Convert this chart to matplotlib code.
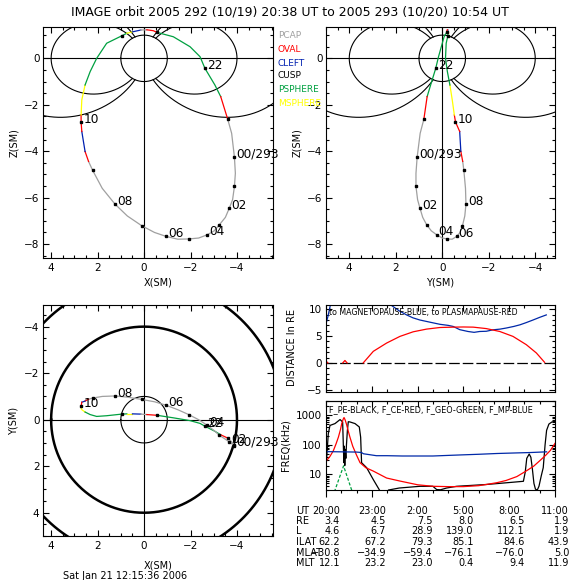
import matplotlib
matplotlib.use("Agg")
import matplotlib.pyplot as plt
import matplotlib.transforms as mtransforms
from matplotlib.ticker import MultipleLocator, FixedLocator, FixedFormatter, LogLocator, NullFormatter
import numpy as np

nan = np.nan

# IMAGE orbit, time in hours after 2005-292 20:00 UT
orbit_t = [0.633, 0.70, 0.76, 0.84, 0.90, 0.95, 1.0, 1.25, 1.5, 1.75, 2.0, 2.3, 2.55, 3.0, 3.5,
           4.0, 4.5, 5.0, 5.5, 6.0, 6.5, 7.0, 7.5, 8.0, 8.5, 9.0, 9.5, 10.0, 10.5, 11.0, 11.5,
           12.0, 12.5, 13.0, 13.2, 13.4, 13.7, 14.0, 14.1, 14.3, 14.45, 14.55, 14.65, 14.75, 14.9]
orbit_x = [0.96, 0.74, 0.50, 0.14, -0.12, -0.40, -0.55, -1.26, -1.98, -2.41, -2.62, -3.05, -3.30, -3.60, -3.77,
           -3.89, -3.93, -3.89, -3.81, -3.67, -3.50, -3.24, -3.02, -2.72, -2.35, -1.92, -1.45, -0.95, -0.45, 0.10, 0.72,
           1.25, 1.80, 2.21, 2.39, 2.54, 2.68, 2.71, 2.71, 2.68, 2.54, 2.32, 2.04, 1.61, 0.96]
orbit_y = [-0.24, -0.25, -0.25, -0.24, -0.22, -0.20, -0.19, -0.08, 0.04, 0.16, 0.28, 0.50, 0.65, 0.79, 0.95,
           1.08, 1.13, 1.13, 1.06, 0.96, 0.84, 0.67, 0.47, 0.24, 0.00, -0.22, -0.43, -0.62, -0.77, -0.87, -0.97,
           -1.02, -1.00, -0.93, -0.88, -0.80, -0.75, -0.57, -0.52, -0.43, -0.33, -0.22, -0.14, -0.17, -0.24]
orbit_z = [0.97, 1.08, 1.14, 1.22, 1.23, 1.19, 1.12, 0.93, 0.50, 0.07, -0.43, -1.15, -1.65, -2.62, -3.23,
           -4.26, -4.95, -5.52, -6.09, -6.45, -6.85, -7.17, -7.43, -7.60, -7.74, -7.78, -7.79, -7.67, -7.50, -7.21, -6.79,
           -6.28, -5.60, -4.83, -4.44, -4.01, -3.15, -2.74, -2.44, -1.79, -1.15, -0.57, 0.00, 0.65, 0.97]
orbit_region = ["S", "M", "C", "P", "O", "O", "S", "S", "S", "S", "S", "S", "O", "P", "P",
                "P", "P", "P", "P", "P", "P", "P", "P", "P", "P", "P", "P", "P", "P", "P", "P",
                "P", "P", "P", "O", "C", "O", "O", "M", "M", "S", "S", "S", "S", "S"]
label_hours = [2.0, 4.0, 6.0, 8.0, 10.0, 12.0, 14.0]
label_text = ["22", "00/293", "02", "04", "06", "08", "10"]

region_names = ["PCAP", "OVAL", "CLEFT", "CUSP", "PSPHERE", "MSPHERE"]
region_codes = ["P", "O", "C", "U", "S", "M"]
region_colors = ["#a0a0a0", "#ff0000", "#0020b0", "#000000", "#00a040", "#ffff00"]

field_L = [4.0, 6.6]
xy_circle_r = [1.0, 4.0, 6.0]
xy_circle_lw = [0.8, 1.8, 1.8]

# distance to magnetopause / plasmapause (RE)
mp_h = [0.04, 0.12, 0.22, 0.30, nan, 4.15, 4.4, 4.8, 5.28, 5.7, 6.15, 6.8, 7.46, 8.0, 8.33, 8.76,
        9.3, 9.7, 10.07, 10.5, 10.94, 11.4, 11.8, 12.3, 12.7, 13.1, 13.56, 14.0, 14.43]
mp_d = [7.7, 8.6, 9.9, 11.0, nan, 11.0, 10.5, 9.7, 8.95, 8.4, 8.0, 7.6, 7.2, 7.0, 6.8, 6.2,
        5.86, 5.7, 5.86, 5.9, 6.17, 6.3, 6.5, 6.8, 7.1, 7.5, 8.0, 8.5, 8.95]
pp_h = [0.0, 0.12, nan, 1.1, 1.24, 1.38, nan, 2.44, 3.1, 3.97, 4.84, 5.71, 6.58, 7.46, 8.33, 9.0,
        9.64, 10.5, 11.38, 12.25, 13.12, 13.78, 14.32]
pp_d = [0.35, 0.0, nan, 0.0, 0.45, 0.0, nan, 0.0, 2.16, 3.7, 4.94, 5.8, 6.3, 6.6, 6.67, 6.7,
        6.67, 6.4, 5.86, 4.94, 3.4, 1.85, 0.1]

# characteristic frequencies (kHz)
fpe_h = [0.0, 0.15, 0.26, 0.59, 0.92, 1.09, 1.14, 1.17, 1.20, 1.23, 1.26, 1.30, 1.34, 1.40, 1.46, 1.57,
         1.9, 2.18, 2.27, 2.33, 2.66, 3.1, 3.5, nan, 4.1, 4.8, 6.16, 7.0, 7.25, 7.5, 7.9, 8.56, 10.5,
         12.27, 12.93, 13.05, 13.15, 13.31, 13.42, 13.52, 13.62, 13.72, 13.84, 13.95, 14.1, 14.23,
         14.35, 14.45, 14.6, 14.8, 15.0]
fpe_f = [17, 235, 450, 520, 710, 590, 80, 25, 90, 20, 70, 35, 100, 300, 600, 590,
         520, 400, 180, 25, 17, 6.7, 3.0, nan, 3.0, 3.5, 4.0, 4.0, 3.1, 3.05, 3.5, 4.0, 4.6,
         5.5, 5.9, 12, 35, 49, 38, 15, 5, 3.2, 3.0, 4.0, 9, 17,
         100, 308, 500, 590, 620]
fce_h = [0.0, 0.25, 0.48, 0.65, 0.81, 0.95, 1.03, 1.12, 1.18, 1.25, 1.35, 1.45, 1.57, 1.75, 2.0,
         2.23, 2.6, 3.1, 3.97, 4.85, 6.0, 7.0, 8.0, 9.0, 10.0, 10.5, 11.2, 11.8, 12.5, 13.1, 13.6,
         14.0, 14.4, 14.7, 15.0]
fce_f = [28, 40, 63, 105, 180, 330, 520, 720, 830, 700, 480, 300, 180, 90, 45,
         25, 17, 13, 7.6, 6.0, 4.5, 4.0, 3.9, 3.9, 4.2, 4.6, 5.3, 6.3, 8.5, 13, 19,
         29, 45, 65, 112]
fgeo_h = [0.55, 1.15, 1.72]
fgeo_f = [2.6, 19.5, 2.6]
fmp_h = [0.04, 1.0, 2.0, 2.33, 2.45, 3.3, 4.0, 5.0, 6.0, 7.0, 8.0, 9.0, 10.0, 11.2, 12.3, 13.4, 14.45]
fmp_f = [59, 58, 57, 55, 50, 43, 43, 42, 42, 42, 44, 46, 48, 51, 53, 55, 58]

# table under the frequency panel
row_names = ["UT", "RE", "L", "ILAT", "MLAT", "MLT"]
table_ut = ["20:00", "23:00", "2:00", "5:00", "8:00", "11:00"]
table_ut_hours = [0, 3, 6, 9, 12, 15]
table_re = ["3.4", "4.5", "7.5", "8.0", "6.5", "1.9"]
table_l = ["4.6", "6.7", "28.9", "139.0", "112.1", "1.9"]
table_ilat = ["62.2", "67.2", "79.3", "85.1", "84.6", "43.9"]
table_mlat = ["\u221230.8", "\u221234.9", "\u221259.4", "\u221276.1", "\u221276.0", "5.0"]
table_mlt = ["12.1", "23.2", "23.0", "0.4", "9.4", "11.9"]

W = H = 580.0


def rect(l, t, r, b):
    return [l / W, 1 - b / H, (r - l) / W, (b - t) / H]


fig = plt.figure(figsize=(5.8, 5.8), dpi=100)
fig.patch.set_facecolor("white")

ax_xz = fig.add_axes(rect(43, 27, 273, 258))
ax_yz = fig.add_axes(rect(326, 27, 555, 258))
ax_xy = fig.add_axes(rect(43, 305, 273, 536))
ax_d = fig.add_axes(rect(326, 305, 555, 392))
ax_f = fig.add_axes(rect(326, 401, 555, 490))


def box_ticks(ax, major, minor):
    ax.xaxis.set_major_locator(MultipleLocator(major))
    ax.xaxis.set_minor_locator(MultipleLocator(minor))
    ax.yaxis.set_major_locator(MultipleLocator(major))
    ax.yaxis.set_minor_locator(MultipleLocator(minor))
    ax.tick_params(which="both", direction="in", top=True, right=True, width=0.8, labelsize=7.5)
    ax.tick_params(which="major", length=4.5)
    ax.tick_params(which="minor", length=2.2)
    ax.tick_params(axis="x", pad=3.5)
    ax.tick_params(axis="y", pad=2.5)
    for s in ax.spines.values():
        s.set_linewidth(0.8)


def draw_orbit(ax, u, v):
    colors = dict(zip(region_codes, region_colors))
    n = len(u)
    i = 0
    while i < n - 1:
        j = i
        while j + 1 < n - 1 and orbit_region[j + 1] == orbit_region[i]:
            j += 1
        ax.plot(u[i:j + 2], v[i:j + 2], color=colors[orbit_region[i]], lw=0.9, zorder=3)
        i = j + 1
    hx = [a for a, t in zip(u, orbit_t) if t == int(t) or t == orbit_t[0]]
    hy = [b for b, t in zip(v, orbit_t) if t == int(t) or t == orbit_t[0]]
    ax.plot(hx, hy, "s", color="black", ms=1.8, zorder=4)
    for h, txt in zip(label_hours, label_text):
        k = orbit_t.index(h)
        ax.annotate(txt, (u[k], v[k]), xytext=(1.5, -0.5), textcoords="offset points",
                    fontsize=8.7, ha="left", va="baseline", zorder=5, annotation_clip=False)


theta = np.linspace(0, 2 * np.pi, 361)


def draw_meridian(ax):
    ax.plot(np.cos(theta), np.sin(theta), color="black", lw=0.8)
    for L in field_L:
        lam0 = np.arccos(np.sqrt(1.0 / L))
        lam = np.linspace(-lam0, lam0, 400)
        r = L * np.cos(lam) ** 2
        for side in (1, -1):
            ax.plot(side * r * np.cos(lam), r * np.sin(lam), color="black", lw=0.8)
    ax.axhline(0, color="black", lw=0.8)
    ax.axvline(0, color="black", lw=0.8)


# X-Z plane
draw_meridian(ax_xz)
draw_orbit(ax_xz, orbit_x, orbit_z)
ax_xz.set_xlim(4.35, -5.55)
ax_xz.set_ylim(-8.6, 1.35)
box_ticks(ax_xz, 2, 0.5)
ax_xz.text(0.5, -0.108, "X(SM)", transform=ax_xz.transAxes, ha="center", va="center", fontsize=7)
ax_xz.text(-0.126, 0.5, "Z(SM)", transform=ax_xz.transAxes, ha="center", va="center",
           rotation=90, fontsize=7)

# Y-Z plane
draw_meridian(ax_yz)
draw_orbit(ax_yz, orbit_y, orbit_z)
ax_yz.set_xlim(5.0, -4.85)
ax_yz.set_ylim(-8.6, 1.35)
box_ticks(ax_yz, 2, 0.5)
ax_yz.text(0.5, -0.108, "Y(SM)", transform=ax_yz.transAxes, ha="center", va="center", fontsize=7)
ax_yz.text(-0.127, 0.5, "Z(SM)", transform=ax_yz.transAxes, ha="center", va="center",
           rotation=90, fontsize=7)

# X-Y plane
for r, w in zip(xy_circle_r, xy_circle_lw):
    ax_xy.plot(r * np.cos(theta), r * np.sin(theta), color="black", lw=w)
ax_xy.axhline(0, color="black", lw=0.8)
ax_xy.axvline(0, color="black", lw=0.8)
draw_orbit(ax_xy, orbit_x, orbit_y)
ax_xy.set_xlim(4.35, -5.55)
ax_xy.set_ylim(5.0, -4.93)
box_ticks(ax_xy, 2, 0.5)
ax_xy.text(0.5, -0.126, "X(SM)", transform=ax_xy.transAxes, ha="center", va="center", fontsize=7)
ax_xy.text(-0.13, 0.5, "Y(SM)", transform=ax_xy.transAxes, ha="center", va="center",
           rotation=90, fontsize=7)

# distance panel
ax_d.plot([0, 15], [0, 0], color="black", lw=0.9, dashes=(8.5, 2.4))
ax_d.plot(mp_h, mp_d, color="#0028a8", lw=0.9)
ax_d.plot(pp_h, pp_d, color="#ff0000", lw=0.9)
ax_d.set_xlim(0, 15)
ax_d.set_ylim(-5.43, 10.8)
ax_d.xaxis.set_major_locator(MultipleLocator(3))
ax_d.xaxis.set_minor_locator(MultipleLocator(1))
ax_d.yaxis.set_major_locator(MultipleLocator(5))
ax_d.yaxis.set_minor_locator(MultipleLocator(1))
ax_d.xaxis.set_major_formatter(NullFormatter())
ax_d.tick_params(which="both", direction="in", top=True, right=True, width=0.8, labelsize=7.5, pad=3)
ax_d.tick_params(which="major", length=4.5)
ax_d.tick_params(which="minor", length=2.2)
for s in ax_d.spines.values():
    s.set_linewidth(0.8)
ax_d.text(0.013, 0.962, "to MAGNETOPAUSE-BLUE, to PLASMAPAUSE-RED", transform=ax_d.transAxes,
          ha="left", va="top", fontsize=5.7)
ax_d.text(-0.148, 0.506, "DISTANCE In RE", transform=ax_d.transAxes, ha="center", va="center",
          rotation=90, fontsize=7)

# frequency panel
ax_f.plot(fpe_h, fpe_f, color="black", lw=0.9)
ax_f.plot(fce_h, fce_f, color="#ff0000", lw=0.9)
ax_f.plot(fgeo_h, fgeo_f, color="#00a040", lw=0.9, dashes=(2.5, 1.5))
ax_f.plot(fmp_h, fmp_f, color="#0028a8", lw=0.9)
ax_f.set_yscale("log")
ax_f.set_xlim(0, 15)
ax_f.set_ylim(3, 3000)
ax_f.yaxis.set_major_locator(FixedLocator([10, 100, 1000]))
ax_f.yaxis.set_major_formatter(FixedFormatter(["10", "100", "1000"]))
ax_f.yaxis.set_minor_locator(LogLocator(base=10, subs=range(2, 10)))
ax_f.yaxis.set_minor_formatter(NullFormatter())
ax_f.xaxis.set_major_locator(MultipleLocator(3))
ax_f.xaxis.set_minor_locator(MultipleLocator(1))
ax_f.xaxis.set_major_formatter(NullFormatter())
ax_f.tick_params(axis="y", which="both", direction="in", right=True, width=0.8, labelsize=7.5, pad=3)
ax_f.tick_params(axis="y", which="major", length=4.5)
ax_f.tick_params(axis="y", which="minor", length=2.2)
ax_f.tick_params(axis="x", which="both", direction="out", width=0.8)
ax_f.tick_params(axis="x", which="major", length=5)
ax_f.tick_params(axis="x", which="minor", length=2.5)
top = ax_f.secondary_xaxis("top")
top.xaxis.set_major_locator(MultipleLocator(3))
top.xaxis.set_minor_locator(MultipleLocator(1))
top.xaxis.set_major_formatter(NullFormatter())
top.tick_params(which="both", direction="in", width=0.8)
top.tick_params(which="major", length=4.5)
top.tick_params(which="minor", length=2.2)
for s in ax_f.spines.values():
    s.set_linewidth(0.8)
ax_f.text(0.013, 0.955, "F_PE-BLACK, F_CE-RED, F_GEO-GREEN, F_MP-BLUE", transform=ax_f.transAxes,
          ha="left", va="top", fontsize=5.9)
ax_f.text(-0.179, 0.506, "FREQ(kHz)", transform=ax_f.transAxes, ha="center", va="center",
          rotation=90, fontsize=7)

# legend of regions
legend_y = [36, 49, 63, 76, 90, 103]
for name, col, yy in zip(region_names, region_colors, legend_y):
    fig.text(278 / W, 1 - yy / H, name, color=col, fontsize=6.5, ha="left", va="center")

# title and date
fig.text(290 / W, 1 - 12.3 / H, "IMAGE orbit 2005 292 (10/19) 20:38 UT to 2005 293 (10/20) 10:54 UT",
         ha="center", va="center", fontsize=9.0)
fig.text(125.5 / W, 1 - 579 / H, "Sat Jan 21 12:15:36 2006", ha="center", va="baseline", fontsize=7)

# table
row_y = [510.5, 521, 531.5, 542, 552.5, 563]
value_right = [340, 386, 432.7, 473.5, 525, 569.3]
for name, yy in zip(row_names, row_y):
    fig.text(296 / W, 1 - yy / H, name, ha="left", va="center", fontsize=7)
blend = mtransforms.blended_transform_factory(ax_f.transData, fig.transFigure)
for h, s in zip(table_ut_hours, table_ut):
    if h == 0:
        fig.text(340 / W, 1 - row_y[0] / H, s, ha="right", va="center", fontsize=7)
    else:
        fig.text(h, 1 - row_y[0] / H, s, transform=blend, ha="center", va="center", fontsize=7)
for vals, yy in zip([table_re, table_l, table_ilat, table_mlat, table_mlt], row_y[1:]):
    for s, xr in zip(vals, value_right):
        fig.text(xr / W, 1 - yy / H, s, ha="right", va="center", fontsize=7)

fig.savefig("out.png", dpi=100)
